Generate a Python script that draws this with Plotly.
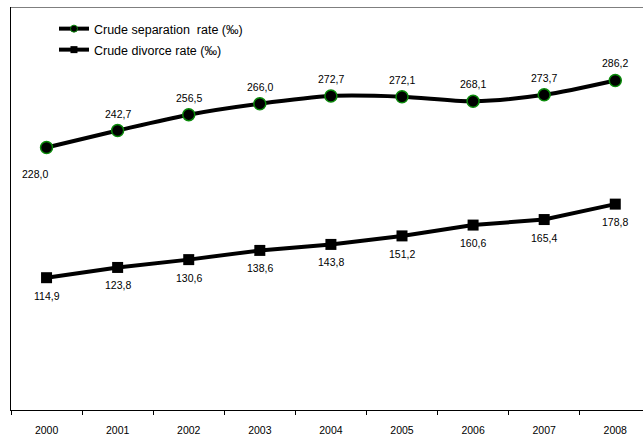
import plotly.graph_objects as go

years = ["2000", "2001", "2002", "2003", "2004", "2005", "2006", "2007", "2008"]
separation_rate = [228.0, 242.7, 256.5, 266.0, 272.7, 272.1, 268.1, 273.7, 286.2]
divorce_rate = [114.9, 123.8, 130.6, 138.6, 143.8, 151.2, 160.6, 165.4, 178.8]

sep_name = "Crude separation  rate (‰)"
div_name = "Crude divorce rate (‰)"

FONT = "Liberation Sans, Arial, sans-serif"


def fmt(v):
    return f"{v:.1f}".replace(".", ",")


fig = go.Figure()

# data series (legend entries are drawn by the dummy traces below)
fig.add_trace(go.Scatter(
    x=years, y=separation_rate, name=sep_name, mode="lines+markers",
    showlegend=False,
    line=dict(color="black", width=4, shape="spline", smoothing=0.8),
    marker=dict(symbol="circle", size=12, color="black",
                line=dict(color="#0a8a0a", width=1.5)),
))
fig.add_trace(go.Scatter(
    x=years, y=divorce_rate, name=div_name, mode="lines+markers",
    showlegend=False,
    line=dict(color="black", width=4),
    marker=dict(symbol="square", size=11, color="black"),
))

# legend samples with smaller markers, one legend box each
fig.add_trace(go.Scatter(
    x=[None], y=[None], name=sep_name, mode="lines+markers",
    legend="legend",
    line=dict(color="black", width=4),
    marker=dict(symbol="circle", size=7, color="black",
                line=dict(color="#0a8a0a", width=1)),
))
fig.add_trace(go.Scatter(
    x=[None], y=[None], name=div_name, mode="lines+markers",
    legend="legend2",
    line=dict(color="black", width=4),
    marker=dict(symbol="square", size=7, color="black"),
))

annotations = []
for i, v in enumerate(separation_rate):
    if i == 0:
        annotations.append(dict(x=i, y=v, text=fmt(v), showarrow=False,
                                xshift=-12, yshift=-27))
    else:
        annotations.append(dict(x=i, y=v, text=fmt(v), showarrow=False,
                                yshift=17))
for i, v in enumerate(divorce_rate):
    annotations.append(dict(x=i, y=v, text=fmt(v), showarrow=False,
                            yshift=-18))
for a in annotations:
    a["xref"] = "x"
    a["yref"] = "y"
    a["font"] = dict(family=FONT, size=10.5, color="black")

legend_style = dict(xanchor="left", yanchor="top", bgcolor="rgba(0,0,0,0)",
                    font=dict(family=FONT, size=12.5), itemwidth=30)

fig.update_layout(
    width=643, height=439,
    margin=dict(l=11, r=0, t=7, b=29),
    paper_bgcolor="white", plot_bgcolor="white",
    font=dict(family=FONT, size=10.5, color="black"),
    showlegend=True,
    legend=dict(x=0.068, y=0.9826, **legend_style),
    legend2=dict(x=0.068, y=0.9305, **legend_style),
    annotations=annotations,
    shapes=[dict(type="line", xref="paper", yref="y", x0=0, x1=1,
                 y0=350, y1=350, layer="above",
                 line=dict(color="#7f7f7f", width=2))],
)

fig.update_xaxes(
    type="category", range=[-0.5, 8.39],
    showgrid=False, zeroline=False,
    showline=True, linecolor="black", linewidth=1,
    ticks="outside", tickson="boundaries", ticklen=4, tickcolor="black",
    tickfont=dict(family=FONT, size=10.5, color="black"),
    ticklabelstandoff=10,
)
fig.update_yaxes(
    range=[0, 350], showgrid=False, zeroline=False,
    showline=True, linecolor="black", linewidth=1,
    showticklabels=False, ticks="",
)

fig.write_html("out.html")
